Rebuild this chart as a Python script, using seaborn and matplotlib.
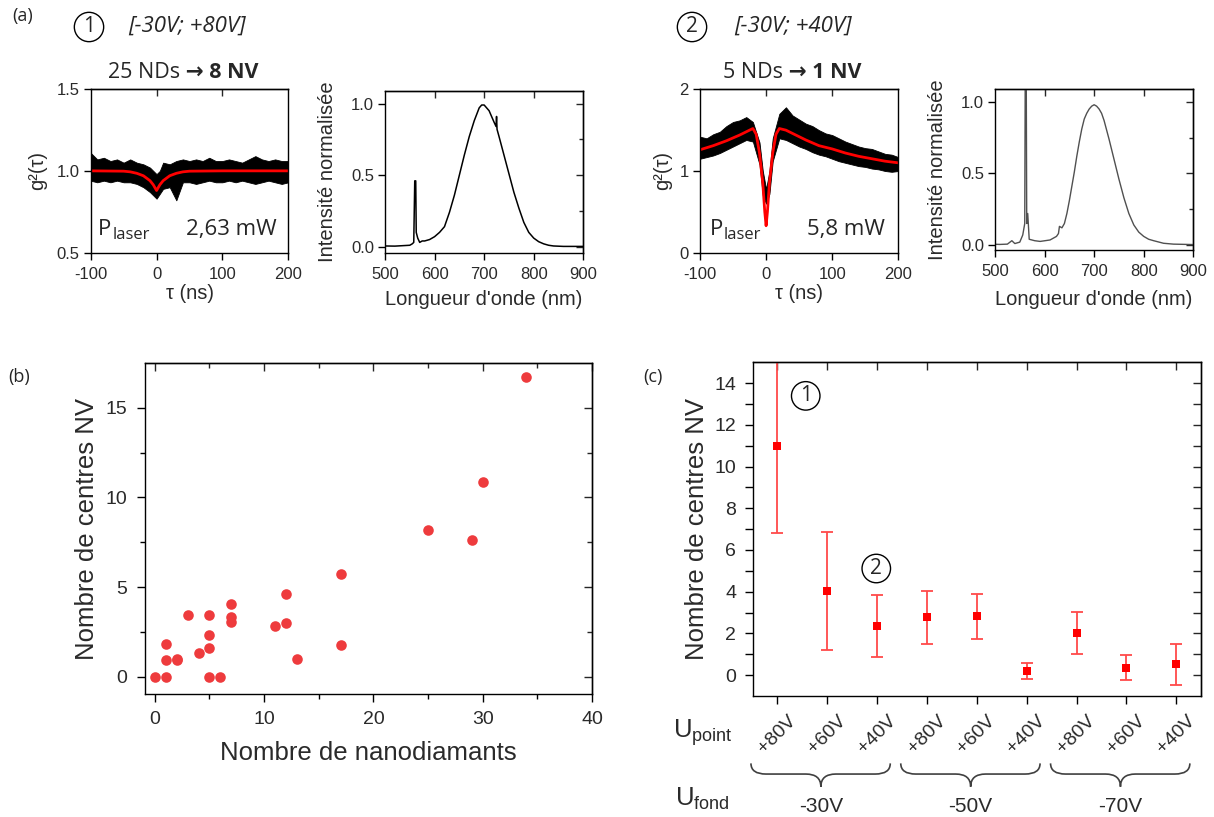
import matplotlib
matplotlib.use("Agg")
import matplotlib.pyplot as plt
import matplotlib.transforms as mtransforms
from matplotlib.path import Path
from matplotlib.patches import PathPatch
import seaborn as sns

# ======================= DATA =======================
# (a) ① [-30V; +80V] : g2(tau) measurement (noise envelope) and fit
g2_1_tau = [-100, -90, -80, -70, -60, -50, -40, -30, -20, -10, -5, 0, 5, 10, 20, 30, 40,
            50, 60, 70, 80, 90, 100, 110, 120, 130, 140, 150, 160, 170, 180, 190, 200]
g2_1_upper = [1.11, 1.07, 1.08, 1.06, 1.07, 1.05, 1.07, 1.05, 1.04, 1.02, 1.00, 0.98, 1.00, 1.05, 1.04, 1.06, 1.07,
              1.06, 1.07, 1.06, 1.08, 1.06, 1.06, 1.07, 1.06, 1.05, 1.07, 1.09, 1.07, 1.06, 1.07, 1.06, 1.06]
g2_1_lower = [0.94, 0.93, 0.94, 0.93, 0.94, 0.93, 0.93, 0.92, 0.90, 0.87, 0.85, 0.83, 0.86, 0.89, 0.90, 0.82, 0.93,
              0.93, 0.92, 0.93, 0.94, 0.93, 0.93, 0.94, 0.93, 0.94, 0.93, 0.92, 0.93, 0.94, 0.93, 0.92, 0.93]
g2_1_fit_tau = [-100, -50, -40, -30, -20, -15, -10, -5, 0, 5, 10, 15, 20, 30, 40, 50, 100, 200]
g2_1_fit = [1.0, 0.998, 0.994, 0.985, 0.97, 0.955, 0.94, 0.915, 0.88, 0.915, 0.94, 0.955, 0.97, 0.985, 0.994,
            0.998, 1.0, 1.0]

# (a) ① spectrum
spec_1_wl = [500, 520, 540, 550, 555, 558, 560, 562, 563, 566, 570, 575, 580, 590, 600, 610, 620, 630, 640,
             650, 660, 670, 680, 690, 695, 700, 710, 720, 724, 725, 726, 730, 740, 750, 760, 770, 780, 790,
             800, 810, 820, 830, 840, 860, 880, 900]
spec_1_int = [0.005, 0.004, 0.008, 0.01, 0.02, 0.03, 0.46, 0.46, 0.10, 0.06, 0.03, 0.04, 0.04, 0.05, 0.07,
              0.10, 0.14, 0.24, 0.36, 0.50, 0.64, 0.77, 0.88, 0.97, 0.99, 0.99, 0.95, 0.87, 0.84, 0.91, 0.82,
              0.77, 0.64, 0.51, 0.38, 0.27, 0.17, 0.10, 0.06, 0.035, 0.02, 0.01, 0.005, 0.002, 0.002, 0.002]

# (a) ② [-30V; +40V] : g2(tau)
g2_2_tau = [-100, -90, -80, -70, -60, -50, -40, -30, -20, -10, -5, 0, 5, 10, 20, 30, 40,
            50, 60, 70, 80, 90, 100, 110, 120, 130, 140, 150, 160, 170, 180, 190, 200]
g2_2_upper = [1.42, 1.40, 1.45, 1.48, 1.55, 1.60, 1.62, 1.66, 1.60, 1.35, 1.00, 0.78, 1.00, 1.40, 1.70, 1.78, 1.68,
              1.63, 1.58, 1.55, 1.50, 1.46, 1.44, 1.40, 1.36, 1.33, 1.30, 1.28, 1.27, 1.24, 1.21, 1.20, 1.17]
g2_2_lower = [1.15, 1.17, 1.19, 1.22, 1.26, 1.30, 1.34, 1.38, 1.36, 1.08, 0.70, 0.60, 0.72, 1.12, 1.40, 1.38, 1.34,
              1.30, 1.27, 1.23, 1.20, 1.18, 1.15, 1.12, 1.10, 1.08, 1.06, 1.05, 1.03, 1.02, 1.00, 0.99, 1.00]
g2_2_fit_tau = [-100, -80, -60, -40, -30, -20, -15, -10, -5, -2, 0, 2, 5, 10, 15, 20, 30, 40, 50, 60, 80,
                100, 120, 140, 160, 180, 200]
g2_2_fit = [1.26, 1.31, 1.37, 1.44, 1.48, 1.52, 1.45, 1.22, 0.85, 0.50, 0.33, 0.50, 0.85, 1.22, 1.45, 1.52,
            1.50, 1.46, 1.42, 1.38, 1.31, 1.27, 1.22, 1.18, 1.15, 1.12, 1.10]

# (a) ② spectrum
spec_2_wl = [500, 510, 525, 534, 540, 550, 556, 560, 561, 563, 564, 566, 569, 580, 591, 611, 624, 628, 630,
             635, 640, 645, 650, 655, 660, 665, 670, 675, 680, 685, 690, 695, 700, 705, 710, 715, 720, 730,
             740, 750, 760, 770, 780, 790, 800, 810, 820, 840, 860, 900]
spec_2_int = [0.005, 0.004, 0.006, 0.03, 0.01, 0.02, 0.07, 0.15, 1.20, 1.20, 0.15, 0.22, 0.04, 0.03, 0.025,
              0.035, 0.06, 0.08, 0.13, 0.12, 0.15, 0.22, 0.31, 0.41, 0.51, 0.62, 0.72, 0.81, 0.88, 0.92,
              0.95, 0.97, 0.98, 0.97, 0.95, 0.92, 0.87, 0.74, 0.60, 0.46, 0.33, 0.22, 0.14, 0.09, 0.06, 0.04,
              0.03, 0.012, 0.006, 0.003]

# (b) number of NV centres vs number of nanodiamonds
nb_nanodiamants = [0, 1, 1, 1, 2, 2, 3, 4, 5, 5, 5, 5, 6, 7, 7, 7, 11, 12, 12, 13, 17, 17, 25, 29, 30, 34]
nb_centres_nv = [0, 0, 0.9, 1.8, 0.9, 1.0, 3.45, 1.3, 3.45, 2.35, 1.6, 0, 0, 4.05, 3.3, 3.05, 2.8, 4.6, 2.98,
                 1.0, 5.7, 1.75, 8.2, 7.6, 10.85, 16.7]

# (c) number of NV centres vs voltages
u_point_labels = ["+80V", "+60V", "+40V", "+80V", "+60V", "+40V", "+80V", "+60V", "+40V"]
u_fond_labels = ["-30V", "-50V", "-70V"]
nv_mean = [11.0, 4.03, 2.35, 2.78, 2.81, 0.19, 2.01, 0.35, 0.51]
nv_err = [4.2, 2.82, 1.5, 1.27, 1.1, 0.37, 1.0, 0.6, 1.0]

# ======================= STYLE =======================
sns.set_style("ticks")
plt.rcParams["font.family"] = ["Liberation Sans", "DejaVu Sans"]
plt.rcParams["axes.unicode_minus"] = False
plt.rcParams["mathtext.fontset"] = "custom"
plt.rcParams["mathtext.rm"] = "Liberation Sans"
plt.rcParams["mathtext.it"] = "Liberation Sans:italic"
plt.rcParams["mathtext.bf"] = "Liberation Sans:bold"

CAL = ["Open Sans", "DejaVu Sans"]
TXT = "#2a2a2a"
W, H = 1214, 817

fig = plt.figure(figsize=(W / 100, H / 100), dpi=100)


def rect(l, t, r, b):
    return [l / W, 1 - b / H, (r - l) / W, (b - t) / H]


def style(ax, xlim, ylim, xmaj, ymaj, xmin=None, ymin=None, top_maj=None, top_min=None,
          right_maj=None, right_min=None, size=12, xpad=5, ypad=3, mlen=5, nlen=3):
    ax.set_xlim(xlim)
    ax.set_ylim(ylim)
    ax.set_xticks(xmaj)
    ax.set_yticks(ymaj)
    if xmin is not None:
        ax.set_xticks(xmin, minor=True)
    if ymin is not None:
        ax.set_yticks(ymin, minor=True)
    ax.tick_params(which="both", direction="out", top=False, right=False, width=1,
                   color="black", labelcolor=TXT, labelsize=size)
    ax.tick_params(which="major", length=mlen)
    ax.tick_params(which="minor", length=nlen)
    ax.tick_params(axis="x", pad=xpad)
    ax.tick_params(axis="y", pad=ypad)
    for sp in ax.spines.values():
        sp.set_visible(True)
        sp.set_linewidth(1.0)
        sp.set_color("black")
    if top_maj is not None:
        sx = ax.secondary_xaxis("top")
        sx.set_xticks(top_maj)
        if top_min is not None:
            sx.set_xticks(top_min, minor=True)
        sx.tick_params(which="both", direction="in", labeltop=False, labelbottom=False, width=1)
        sx.tick_params(which="major", length=mlen)
        sx.tick_params(which="minor", length=nlen)
        sx.spines["top"].set_linewidth(1.0)
    if right_maj is not None:
        sy = ax.secondary_yaxis("right")
        sy.set_yticks(right_maj)
        if right_min is not None:
            sy.set_yticks(right_min, minor=True)
        sy.tick_params(which="both", direction="in", labelright=False, labelleft=False, width=1)
        sy.tick_params(which="major", length=mlen)
        sy.tick_params(which="minor", length=nlen)
        sy.spines["right"].set_linewidth(1.0)


def labels(ax, xl, yl, xy_x, xy_y, size):
    ax.set_xlabel(xl, fontsize=size, color=TXT)
    ax.set_ylabel(yl, fontsize=size, color=TXT)
    ax.xaxis.set_label_coords(0.5, xy_x)
    ax.yaxis.set_label_coords(xy_y, 0.5)
    ax.xaxis.label.set_va("center")
    ax.yaxis.label.set_va("center")


def plaser(ax, xP, yb, power, xr):
    t = ax.text(xP, yb, "P", transform=ax.transAxes, fontsize=16, family=CAL, va="baseline", ha="left")
    ax.annotate("laser", xy=(1, 0), xycoords=t, xytext=(0.5, -2.5), textcoords="offset points",
                fontsize=12, family=CAL, ha="left", va="bottom")
    ax.text(xr, yb, power, transform=ax.transAxes, fontsize=16, family=CAL, va="baseline", ha="right")


# ----------------- (a) ① g2 -----------------
a1 = fig.add_axes(rect(90.7, 89, 288.3, 252.7))
a1.fill_between(g2_1_tau, g2_1_lower, g2_1_upper, color="black", lw=0.6)
sns.lineplot(x=g2_1_fit_tau, y=g2_1_fit, ax=a1, color="#ff0000", lw=2.0, sort=False, estimator=None)
style(a1, (-100, 200), (0.5, 1.5), [-100, 0, 100, 200], [0.5, 1.0, 1.5], top_maj=[0, 100])
a1.set_yticklabels(["0.5", "1.0", "1.5"])
labels(a1, "τ (ns)", "g²(τ)", -0.25, -0.27, 14.5)
plaser(a1, 0.038, 0.11, "2,63 mW", 0.943)

# ----------------- (a) ① spectrum -----------------
a2 = fig.add_axes(rect(385, 90.7, 583.3, 252.7))
sns.lineplot(x=spec_1_wl, y=spec_1_int, ax=a2, color="black", lw=1.1, sort=False, estimator=None)
style(a2, (500, 900), (-0.042, 1.09), [500, 600, 700, 800, 900], [0.0, 0.5, 1.0],
      top_maj=[600, 700, 800], right_maj=[0.0, 0.5, 1.0], right_min=[0.25, 0.75])
a2.set_yticklabels(["0.0", "0.5", "1.0"])
labels(a2, "Longueur d'onde (nm)", "Intensité normalisée", -0.29, -0.29, 14.5)

# ----------------- (a) ② g2 -----------------
a3 = fig.add_axes(rect(700, 89.3, 898.3, 252.7))
a3.fill_between(g2_2_tau, g2_2_lower, g2_2_upper, color="black", lw=0.6)
sns.lineplot(x=g2_2_fit_tau, y=g2_2_fit, ax=a3, color="#ff0000", lw=2.0, sort=False, estimator=None)
style(a3, (-100, 200), (0, 2), [-100, 0, 100, 200], [0, 1, 2], top_maj=[0, 100])
labels(a3, "τ (ns)", "g²(τ)", -0.247, -0.19, 14.5)
plaser(a3, 0.05, 0.11, "5,8 mW", 0.933)

# ----------------- (a) ② spectrum -----------------
a4 = fig.add_axes(rect(995, 89, 1193.3, 250))
sns.lineplot(x=spec_2_wl, y=spec_2_int, ax=a4, color="#505050", lw=1.0, sort=False, estimator=None)
style(a4, (500, 900), (-0.035, 1.09), [500, 600, 700, 800, 900], [0.0, 0.5, 1.0],
      top_maj=[600, 700, 800], right_maj=[0.0, 0.5, 1.0], right_min=[0.25, 0.75])
a4.set_yticklabels(["0.0", "0.5", "1.0"])
labels(a4, "Longueur d'onde (nm)", "Intensité normalisée", -0.31, -0.29, 14.5)

# ----------------- (b) -----------------
ab = fig.add_axes(rect(145, 363, 592, 694))
sns.scatterplot(x=nb_nanodiamants, y=nb_centres_nv, ax=ab, color="#ee3b3d", s=58, marker="o",
                linewidth=0, zorder=3)
style(ab, (-0.9, 40), (-0.97, 17.5), [0, 10, 20, 30, 40], [0, 5, 10, 15],
      xmin=[5, 15, 25, 35], ymin=[2.5, 7.5, 12.5],
      top_maj=[0, 10, 20, 30, 40], top_min=[5, 15, 25, 35],
      right_maj=[0, 5, 10, 15], right_min=[2.5, 7.5, 12.5],
      size=14, xpad=6, ypad=7, mlen=6, nlen=3.5)
labels(ab, "Nombre de nanodiamants", "Nombre de centres NV", -0.179, -0.129, 18.5)

# ----------------- (c) -----------------
ac = fig.add_axes(rect(752.7, 362.3, 1200.6, 695.7))
pos = list(range(len(nv_mean)))
ac.errorbar(pos, nv_mean, yerr=nv_err, fmt="none", ecolor="#ff4a4a", elinewidth=1.3,
            capsize=4, capthick=1.3, zorder=2)
sns.scatterplot(x=pos, y=nv_mean, ax=ac, color="#ff0000", marker="s", s=30, linewidth=0, zorder=3)
style(ac, (-0.485, 8.485), (-0.99, 15), pos, list(range(0, 15, 2)),
      ymin=list(range(1, 15, 2)), top_maj=pos,
      right_maj=list(range(0, 15, 2)), right_min=list(range(1, 15, 2)),
      size=14, xpad=6, ypad=6, mlen=6, nlen=6)
ac.set_xticklabels(u_point_labels, rotation=45, ha="center", fontsize=14)
ac.set_ylabel("Nombre de centres NV", fontsize=18.5, color=TXT)
ac.yaxis.set_label_coords(-0.124, 0.5)
ac.yaxis.label.set_va("center")

# circled markers inside (c)
circ = dict(boxstyle="circle,pad=0.18", fc="white", ec="black", lw=1.0)
ac.text(0.577, 13.39, "1", fontsize=15, family=CAL, ha="center", va="center", bbox=circ)
ac.text(1.99, 5.11, "2", fontsize=15, family=CAL, ha="center", va="center", bbox=circ)

# U_point / U_fond and braces
ac.text(-0.178, -0.112, r"U$_{\mathrm{point}}$", transform=ac.transAxes, fontsize=18.5,
        ha="left", va="center", color=TXT)
ac.text(-0.174, -0.31, r"U$_{\mathrm{fond}}$", transform=ac.transAxes, fontsize=18.5,
        ha="left", va="center", color=TXT)
btrans = mtransforms.blended_transform_factory(ac.transData, ac.transAxes)
yt, ym, yb = -0.203, -0.235, -0.273
r = 0.3
for g, lab in enumerate(u_fond_labels):
    x0, x1, xc = 3 * g - 0.52, 3 * g + 2.27, 3 * g + 0.88
    verts = [(x0, yt), (x0, ym), (x0 + r, ym), (xc - r, ym), (xc, ym), (xc, yb),
             (xc, ym), (xc + r, ym), (x1 - r, ym), (x1, ym), (x1, yt)]
    codes = [Path.MOVETO, Path.CURVE3, Path.CURVE3, Path.LINETO, Path.CURVE3, Path.CURVE3,
             Path.CURVE3, Path.CURVE3, Path.LINETO, Path.CURVE3, Path.CURVE3]
    ac.add_patch(PathPatch(Path(verts, codes), transform=btrans, fill=False, ec="#404040",
                           lw=1.2, clip_on=False))
    ac.text(xc, -0.333, lab, transform=btrans, fontsize=15, ha="center", va="center", color=TXT)

# ----------------- headers and panel letters -----------------
def fx(px):
    return px / W


def fy(py):
    return 1 - py / H


fig.text(fx(12), fy(16), "(a)", fontsize=13, family=CAL, va="center", ha="left")
fig.text(fx(8), fy(377), "(b)", fontsize=13, family=CAL, va="center", ha="left")
fig.text(fx(643), fy(377), "(c)", fontsize=13, family=CAL, va="center", ha="left")

circ_top = dict(boxstyle="circle,pad=0.2", fc="white", ec="black", lw=1.0)
fig.text(fx(89), fy(27), "1", fontsize=15, family=CAL, ha="center", va="center", bbox=circ_top)
fig.text(fx(128), fy(26), "[-30V; +80V]", fontsize=16, family=CAL, style="italic",
         ha="left", va="center")
fig.text(fx(692), fy(27), "2", fontsize=15, family=CAL, ha="center", va="center", bbox=circ_top)
fig.text(fx(734), fy(26), "[-30V; +40V]", fontsize=16, family=CAL, style="italic",
         ha="left", va="center")

t1 = fig.text(fx(108), fy(73), "25 NDs", fontsize=15.5, family=CAL, ha="left", va="center")
a1.annotate(" → 8 NV", xy=(1, 0.5), xycoords=t1, fontsize=15.5, family=CAL, fontweight="bold",
            ha="left", va="center", annotation_clip=False)
t2 = fig.text(fx(723), fy(73), "5 NDs", fontsize=15.5, family=CAL, ha="left", va="center")
a3.annotate(" → 1 NV", xy=(1, 0.5), xycoords=t2, fontsize=15.5, family=CAL, fontweight="bold",
            ha="left", va="center", annotation_clip=False)

fig.savefig("out.png", dpi=100)
